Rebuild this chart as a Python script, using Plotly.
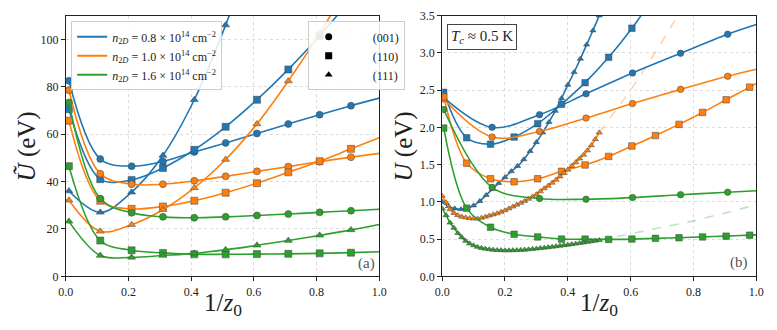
import plotly.graph_objects as go

# ---------------- Panel (a) data ----------------
xa = [0.01, 0.11, 0.21, 0.31, 0.41, 0.51, 0.61, 0.71, 0.81, 0.91]

a_blue_001 = [82.5, 49.5, 46.5, 48.5, 52.5, 56.3, 60.3, 64.3, 68.2, 72.0]
a_blue_001_tail_x = [1.0]
a_blue_001_tail = [75.2]
a_blue_110 = [70.5, 41.0, 40.7, 45.7, 53.4, 63.1, 74.5, 87.3, 101.5]
a_blue_110_tail_x = [0.91]
a_blue_110_tail = [117.0]
a_blue_111 = [36.0, 27.0, 35.5, 51.0, 74.5, 106.0]
a_blue_111_tail_x = [0.61]
a_blue_111_tail = [143.0]

a_orange_001 = [78.5, 43.3, 38.9, 38.9, 40.3, 42.2, 44.3, 46.3, 48.4, 50.3]
a_orange_001_tail_x = [1.0]
a_orange_001_tail = [51.9]
a_orange_110 = [65.7, 31.9, 28.5, 29.5, 31.9, 35.3, 39.3, 43.9, 48.6, 53.8]
a_orange_110_tail_x = [1.0]
a_orange_110_tail = [58.5]
a_orange_111 = [32.1, 19.0, 21.8, 28.1, 37.3, 49.3, 64.3, 82.4, 102.5]
a_orange_111_tail_x = [0.91]
a_orange_111_tail = [125.0]

a_green_001 = [73.4, 32.8, 26.8, 25.1, 24.7, 25.1, 25.7, 26.3, 27.0, 27.7]
a_green_001_tail_x = [1.0]
a_green_001_tail = [28.3]
a_green_110 = [46.5, 15.1, 11.0, 9.9, 9.3, 9.3, 9.4, 9.5, 9.7, 10.0]
a_green_110_tail_x = [1.0]
a_green_110_tail = [10.4]
a_green_111 = [23.2, 8.8, 8.0, 8.8, 9.7, 11.2, 13.1, 15.1, 17.3, 19.6]
a_green_111_tail_x = [1.0]
a_green_111_tail = [21.9]

# ---------------- Panel (b) data ----------------
xb_circ = [0.005, 0.159, 0.31, 0.458, 0.606, 0.759, 0.909]
xb_sq = [0.005, 0.078, 0.154, 0.229, 0.304, 0.38, 0.455, 0.53, 0.604,
         0.679, 0.754, 0.829, 0.904, 0.979]
xb_tri_blue = [0.0, 0.02, 0.04, 0.06, 0.08, 0.10, 0.12, 0.14, 0.16, 0.18,
               0.20, 0.22, 0.24, 0.26, 0.28, 0.30, 0.32, 0.34, 0.36, 0.38,
               0.40, 0.42, 0.44, 0.46, 0.48, 0.50]
xb_tri = [0.0, 0.0125, 0.025, 0.0375, 0.05, 0.0625, 0.075, 0.0875, 0.1,
          0.1125, 0.125, 0.1375, 0.15, 0.1625, 0.175, 0.1875, 0.2, 0.2125,
          0.225, 0.2375, 0.25, 0.2625, 0.275, 0.2875, 0.3, 0.3125, 0.325,
          0.3375, 0.35, 0.3625, 0.375, 0.3875, 0.4, 0.4125, 0.425, 0.4375,
          0.45, 0.4625, 0.475, 0.4875, 0.5]

b_blue_001 = [2.40, 2.00, 2.17, 2.45, 2.73, 2.995, 3.25]
b_blue_001_tail_x = [1.0]
b_blue_001_tail = [3.38]
b_blue_110 = [2.47, 1.86, 1.775, 1.87, 2.05, 2.31, 2.60, 2.94, 3.33]
b_blue_110_tail_x = [0.679]
b_blue_110_tail = [3.78]
b_blue_111 = [1.00, 0.94, 0.91, 0.90, 0.915, 0.95, 1.01, 1.09, 1.17, 1.25,
              1.33, 1.41, 1.48, 1.57, 1.68, 1.80, 1.93, 2.07, 2.22, 2.39,
              2.57, 2.74, 2.92, 3.11, 3.30, 3.50]
b_blue_111_tail_x = [0.52]
b_blue_111_tail = [3.70]

b_orange_001 = [2.38, 1.87, 1.945, 2.125, 2.32, 2.51, 2.686]
b_orange_001_tail_x = [1.0]
b_orange_001_tail = [2.78]
b_orange_110 = [2.41, 1.52, 1.31, 1.27, 1.31, 1.41, 1.495, 1.61, 1.75,
                1.89, 2.04, 2.20, 2.37, 2.54]
b_orange_110_tail_x = [1.0]
b_orange_110_tail = [2.59]
b_orange_111 = [1.08, 0.99, 0.90, 0.85, 0.82, 0.80, 0.79, 0.78, 0.775,
                0.775, 0.785, 0.80, 0.815, 0.83, 0.845, 0.865, 0.885, 0.91,
                0.935, 0.96, 0.985, 1.01, 1.04, 1.07, 1.10, 1.14, 1.18,
                1.215, 1.255, 1.295, 1.34, 1.385, 1.43, 1.48, 1.53, 1.58,
                1.63, 1.69, 1.76, 1.84, 1.93]
b_orange_111_dash_x = [0.5, 0.55, 0.6, 0.65, 0.7, 0.75]
b_orange_111_dash = [1.93, 2.21, 2.50, 2.82, 3.15, 3.50]

b_green_001 = [2.24, 1.195, 1.045, 1.036, 1.058, 1.096, 1.13]
b_green_001_tail_x = [1.0]
b_green_001_tail = [1.15]
b_green_110 = [1.99, 0.916, 0.66, 0.565, 0.53, 0.50, 0.50, 0.496, 0.50,
               0.51, 0.518, 0.53, 0.54, 0.553]
b_green_110_tail_x = [1.0]
b_green_110_tail = [0.557]
b_green_111 = [0.91, 0.82, 0.72, 0.65, 0.58, 0.525, 0.475, 0.44, 0.415,
               0.395, 0.38, 0.37, 0.362, 0.356, 0.352, 0.35, 0.348, 0.348,
               0.349, 0.351, 0.354, 0.357, 0.362, 0.367, 0.372, 0.378,
               0.384, 0.39, 0.396, 0.403, 0.41, 0.417, 0.424, 0.431, 0.438,
               0.446, 0.454, 0.462, 0.47, 0.478, 0.486]
b_green_111_dash_x = [0.5, 0.6, 0.7, 0.8, 0.9, 1.0]
b_green_111_dash = [0.486, 0.57, 0.655, 0.745, 0.85, 0.96]

legend_n = ["0.8", "1.0", "1.6"]
legend_planes = ["(001)", "(110)", "(111)"]

# ---------------- styles ----------------
BLUE, ORANGE, GREEN = "#1f77b4", "#ff7f0e", "#2ca02c"
EDGE = "rgba(70,70,70,0.75)"
SERIF = "Liberation Serif, DejaVu Serif, serif"

fig = go.Figure()


def add_series(xm, ym, tx, ty, color, symbol, size, axis, shape="spline"):
    xs, ys = "x" if axis == 1 else "x2", "y" if axis == 1 else "y2"
    fig.add_trace(go.Scatter(
        x=list(xm) + list(tx), y=list(ym) + list(ty), mode="lines",
        line=dict(color=color, width=1.6, shape=shape, smoothing=1.0),
        xaxis=xs, yaxis=ys, showlegend=False, hoverinfo="skip"))
    fig.add_trace(go.Scatter(
        x=xm[:len(ym)], y=ym, mode="markers",
        marker=dict(color=color, symbol=symbol, size=size,
                    line=dict(color=EDGE, width=0.7)),
        xaxis=xs, yaxis=ys, showlegend=False))


# panel (a)
add_series(xa, a_blue_001, a_blue_001_tail_x, a_blue_001_tail, BLUE, "circle", 7, 1)
add_series(xa, a_blue_110, a_blue_110_tail_x, a_blue_110_tail, BLUE, "square", 7, 1)
add_series(xa, a_blue_111, a_blue_111_tail_x, a_blue_111_tail, BLUE, "triangle-up", 7, 1)
add_series(xa, a_orange_001, a_orange_001_tail_x, a_orange_001_tail, ORANGE, "circle", 7, 1)
add_series(xa, a_orange_110, a_orange_110_tail_x, a_orange_110_tail, ORANGE, "square", 7, 1)
add_series(xa, a_orange_111, a_orange_111_tail_x, a_orange_111_tail, ORANGE, "triangle-up", 7, 1)
add_series(xa, a_green_001, a_green_001_tail_x, a_green_001_tail, GREEN, "circle", 7, 1)
add_series(xa, a_green_110, a_green_110_tail_x, a_green_110_tail, GREEN, "square", 7, 1)
add_series(xa, a_green_111, a_green_111_tail_x, a_green_111_tail, GREEN, "triangle-up", 7, 1)

# panel (b) dashed extrapolations
fig.add_trace(go.Scatter(x=b_orange_111_dash_x, y=b_orange_111_dash, mode="lines",
                         line=dict(color="rgba(255,127,14,0.35)", width=1.6, dash="dash"),
                         xaxis="x2", yaxis="y2", showlegend=False, hoverinfo="skip"))
fig.add_trace(go.Scatter(x=b_green_111_dash_x, y=b_green_111_dash, mode="lines",
                         line=dict(color="rgba(44,160,44,0.3)", width=1.6, dash="dash"),
                         xaxis="x2", yaxis="y2", showlegend=False, hoverinfo="skip"))

add_series(xb_circ, b_blue_001, b_blue_001_tail_x, b_blue_001_tail, BLUE, "circle", 6.5, 2)
add_series(xb_sq, b_blue_110, b_blue_110_tail_x, b_blue_110_tail, BLUE, "square", 6.5, 2)
add_series(xb_tri_blue, b_blue_111, b_blue_111_tail_x, b_blue_111_tail, BLUE, "triangle-up", 5.5, 2)
add_series(xb_circ, b_orange_001, b_orange_001_tail_x, b_orange_001_tail, ORANGE, "circle", 6.5, 2)
add_series(xb_sq, b_orange_110, b_orange_110_tail_x, b_orange_110_tail, ORANGE, "square", 6.5, 2)
add_series(xb_tri, b_orange_111, [], [], ORANGE, "triangle-up", 5.5, 2)
add_series(xb_circ, b_green_001, b_green_001_tail_x, b_green_001_tail, GREEN, "circle", 6.5, 2)
add_series(xb_sq, b_green_110, b_green_110_tail_x, b_green_110_tail, GREEN, "square", 6.5, 2)
add_series(xb_tri, b_green_111, [], [], GREEN, "triangle-up", 5.5, 2)

# legends
for n, c in zip(legend_n, [BLUE, ORANGE, GREEN]):
    fig.add_trace(go.Scatter(
        x=[None], y=[None], mode="lines", line=dict(color=c, width=2),
        name=f"<i>n</i><sub>2<i>D</i></sub> = {n} × 10<sup>14</sup> cm<sup>−2</sup>",
        legend="legend", xaxis="x", yaxis="y"))
for p, s in zip(legend_planes, ["circle", "square", "triangle-up"]):
    fig.add_trace(go.Scatter(
        x=[None], y=[None], mode="markers", marker=dict(color="black", symbol=s, size=7),
        name="\u2003\u2003" + p, legend="legend2", xaxis="x", yaxis="y"))

axis_common = dict(
    showline=True, linecolor="#222", linewidth=1, mirror=True,
    ticks="outside", ticklen=4, tickcolor="#222",
    showgrid=True, gridcolor="#dcdcdc", gridwidth=0.8, griddash="dot",
    zeroline=False, tickfont=dict(family=SERIF, size=12, color="#222"),
)

fig.update_layout(
    width=777, height=330,
    margin=dict(l=0, r=0, t=0, b=0),
    paper_bgcolor="white", plot_bgcolor="white",
    font=dict(family=SERIF, color="#222"),
    xaxis=dict(domain=[59 / 777, 379 / 777], range=[0, 1], dtick=0.2,
               tickformat=".1f", anchor="y", **axis_common),
    yaxis=dict(domain=[1 - 281.3 / 330, 1 - 9 / 330], range=[0, 110], dtick=20,
               anchor="x", **axis_common),
    xaxis2=dict(domain=[443.3 / 777, 764 / 777], range=[0, 1], dtick=0.2,
                tickformat=".1f", anchor="y2", **axis_common),
    yaxis2=dict(domain=[1 - 281.3 / 330, 1 - 9 / 330], range=[0, 3.5], dtick=0.5,
                tickformat=".1f", anchor="x2", **axis_common),
    legend=dict(x=64.5 / 777, y=1 - 15 / 330, xanchor="left", yanchor="top",
                bgcolor="rgba(255,255,255,0.85)", bordercolor="#cccccc", borderwidth=1,
                font=dict(family=SERIF, size=12, color="#222"), itemwidth=30,
                tracegroupgap=0),
    legend2=dict(x=306 / 777, y=1 - 15 / 330, xanchor="left", yanchor="top",
                 bgcolor="rgba(255,255,255,0.85)", bordercolor="#cccccc", borderwidth=1,
                 font=dict(family=SERIF, size=12, color="#222"), itemwidth=30,
                 tracegroupgap=0),
    showlegend=True,
)

annotations = [
    dict(text="<i>Ũ</i> (eV)", x=19 / 777, y=1 - 146 / 330, textangle=-90,
         font=dict(family=SERIF, size=25)),
    dict(text="<i>U</i> (eV)", x=404 / 777, y=1 - 146 / 330, textangle=-90,
         font=dict(family=SERIF, size=25)),
    dict(text="1/<i>z</i><sub>0</sub>", x=220 / 777, y=1 - 311 / 330,
         font=dict(family=SERIF, size=25)),
    dict(text="1/<i>z</i><sub>0</sub>", x=603 / 777, y=1 - 311 / 330,
         font=dict(family=SERIF, size=25)),
    dict(text="(a)", x=366 / 777, y=1 - 268 / 330, font=dict(family=SERIF, size=15, color="#555")),
    dict(text="(b)", x=746 / 777, y=1 - 267 / 330, font=dict(family=SERIF, size=15, color="#555")),
    dict(text="<i>T</i><sub><i>c</i></sub> ≈ 0.5 K", x=448 / 777, y=1 - 18 / 330,
         xanchor="left", yanchor="top", font=dict(family=SERIF, size=15, color="#222"),
         bordercolor="#444", borderwidth=1, borderpad=3, bgcolor="white"),
]
for a in annotations:
    a.setdefault("xanchor", "center")
    a.setdefault("yanchor", "middle")
    fig.add_annotation(xref="paper", yref="paper", showarrow=False, **a)

fig.write_html("out.html")
